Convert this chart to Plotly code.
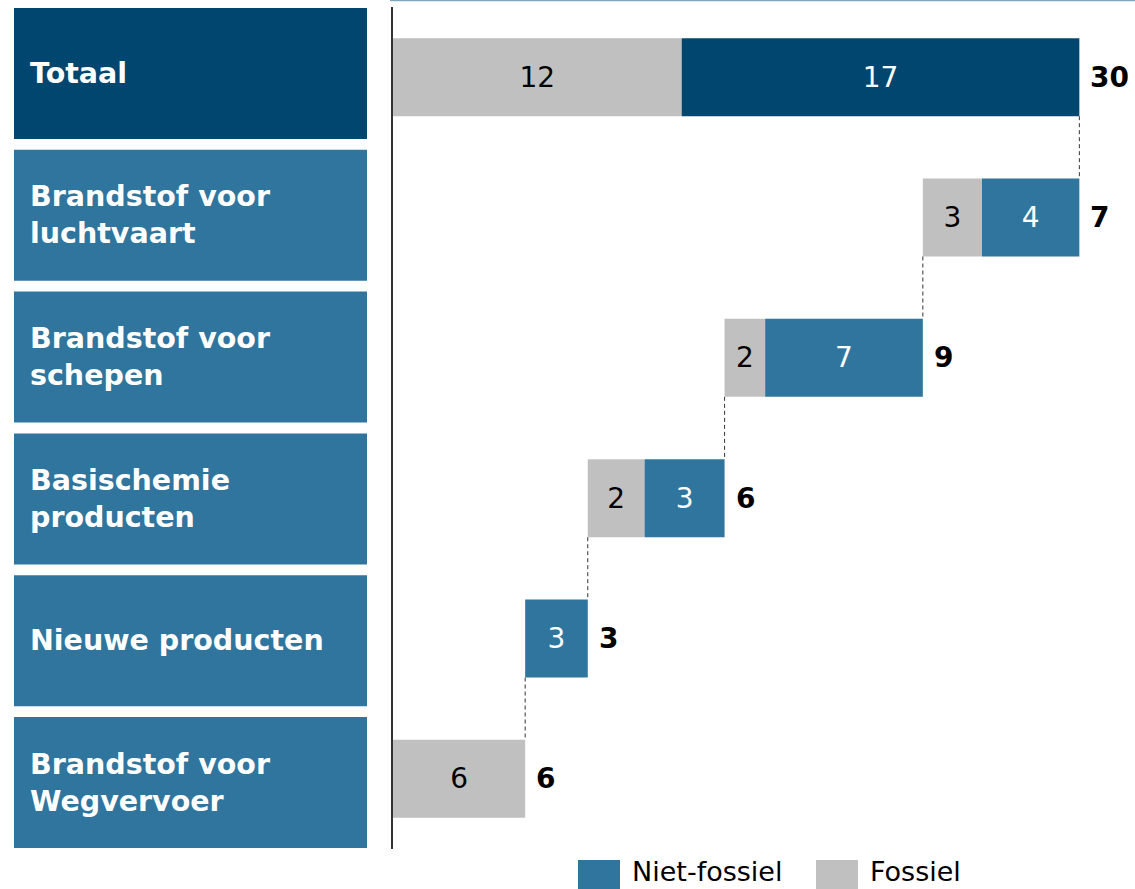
import plotly.graph_objects as go

# Rows from top to bottom
categories = [
    "Totaal",
    "Brandstof voor<br>luchtvaart",
    "Brandstof voor<br>schepen",
    "Basischemie<br>producten",
    "Nieuwe producten",
    "Brandstof voor<br>Wegvervoer",
]
# Component rows (everything except Totaal), top to bottom
fossiel_parts = [2.55, 1.75, 2.45, 0.0, 5.7]
niet_fossiel_parts = [4.2, 6.8, 3.45, 2.7, 0.0]
series_names = ["Niet-fossiel", "Fossiel"]

# Totaal row is the sum of the components
fossiel = [sum(fossiel_parts)] + fossiel_parts
niet_fossiel = [sum(niet_fossiel_parts)] + niet_fossiel_parts

DARK = "#01466F"
BLUE = "#2F759D"
GREY = "#C0C0C0"
FONT = "DejaVu Sans"

n = len(categories)
ys = list(range(n))

# Waterfall starting points: bottom row starts at 0, each row above starts where the one below ends
starts = [0.0] * n
running = 0.0
for i in range(n - 1, 0, -1):
    starts[i] = running
    running += fossiel[i] + niet_fossiel[i]
starts[0] = 0.0
totals = [f + nf for f, nf in zip(fossiel, niet_fossiel)]
ends = [s + t for s, t in zip(starts, totals)]


def fmt(v):
    return f"{v:.0f}" if v > 0 else ""


fig = go.Figure()
fig.add_trace(go.Bar(
    name=series_names[1], orientation="h", y=ys, x=fossiel, base=starts,
    marker=dict(color=GREY, line=dict(width=0)),
    text=[fmt(v) for v in fossiel], textposition="inside",
    insidetextanchor="middle", textangle=0,
    textfont=dict(family=FONT, size=28, color="#000000"),
    showlegend=False, hoverinfo="skip",
))
fig.add_trace(go.Bar(
    name=series_names[0], orientation="h", y=ys, x=niet_fossiel,
    base=[s + f for s, f in zip(starts, fossiel)],
    marker=dict(color=[DARK] + [BLUE] * (n - 1), line=dict(width=0)),
    text=[fmt(v) for v in niet_fossiel], textposition="inside",
    insidetextanchor="middle", textangle=0,
    textfont=dict(family=FONT, size=28, color="#FFFFFF"),
    showlegend=False, hoverinfo="skip",
))

shapes = []
annotations = []

# Plot-area geometry in pixels (used to place the side panels and legend)
W, H = 1135, 889
ML, MR, MT, MB = 393, 0, 7, 40
PW = W - ML - MR
PH = H - MT - MB


def px_x(px):
    return (px - ML) / PW


def px_y(py):
    return (H - MB - py) / PH


# Category panels on the left
for i, cat in enumerate(categories):
    top = 8 + 141.8 * i
    bot = top + 131
    shapes.append(dict(
        type="rect", xref="paper", yref="paper",
        x0=px_x(14), x1=px_x(367), y0=px_y(bot), y1=px_y(top),
        fillcolor=DARK if i == 0 else BLUE, line=dict(width=0), layer="below",
    ))
    annotations.append(dict(
        xref="paper", yref="paper", x=px_x(28), y=px_y((top + bot) / 2),
        xanchor="left", yanchor="middle", align="left", showarrow=False,
        text=f"<b>{cat}</b>",
        font=dict(family=FONT, size=28.5, color="#FFFFFF"),
    ))

# Dashed connectors between consecutive waterfall steps
half = 0.278
for i in range(n - 1):
    xc = starts[i] if i > 0 else ends[0]
    shapes.append(dict(
        type="line", xref="x", yref="y",
        x0=xc, x1=xc, y0=i + half, y1=i + 1 - half,
        line=dict(color="#333333", width=1, dash="4px,3px"),
    ))

# Row totals to the right of each bar
for i in range(n):
    annotations.append(dict(
        xref="x", yref="y", x=ends[i], y=i, xanchor="left", yanchor="middle",
        xshift=9, showarrow=False, text=f"<b>{totals[i]:.0f}</b>",
        font=dict(family=FONT, size=28, color="#000000"),
    ))

# Thin rule along the top edge
shapes.append(dict(
    type="line", xref="paper", yref="paper",
    x0=px_x(390), x1=1, y0=px_y(0.5), y1=px_y(0.5),
    line=dict(color="#7FA6BF", width=1.5),
))

# Legend drawn with swatches at the bottom
legend_items = [(series_names[0], BLUE, 578), (series_names[1], GREY, 816)]
for name, col, x0 in legend_items:
    shapes.append(dict(
        type="rect", xref="paper", yref="paper",
        x0=px_x(x0), x1=px_x(x0 + 42), y0=px_y(900), y1=px_y(860),
        fillcolor=col, line=dict(width=0),
    ))
    annotations.append(dict(
        xref="paper", yref="paper", x=px_x(x0 + 52), y=px_y(871),
        xanchor="left", yanchor="middle", showarrow=False, text=name,
        font=dict(family=FONT, size=27, color="#000000"),
    ))

fig.update_layout(
    width=W, height=H,
    margin=dict(l=ML, r=MR, t=MT, b=MB, pad=0),
    paper_bgcolor="#FFFFFF", plot_bgcolor="#FFFFFF",
    barmode="overlay", bargap=0.444,
    xaxis=dict(range=[0, 32], visible=False, fixedrange=True),
    yaxis=dict(
        range=[n - 0.5, -0.5], showticklabels=False, ticks="",
        showgrid=False, zeroline=False,
        showline=True, linecolor="#333333", linewidth=1.5,
    ),
    shapes=shapes, annotations=annotations,
    showlegend=False,
)

fig.write_html("out.html")
